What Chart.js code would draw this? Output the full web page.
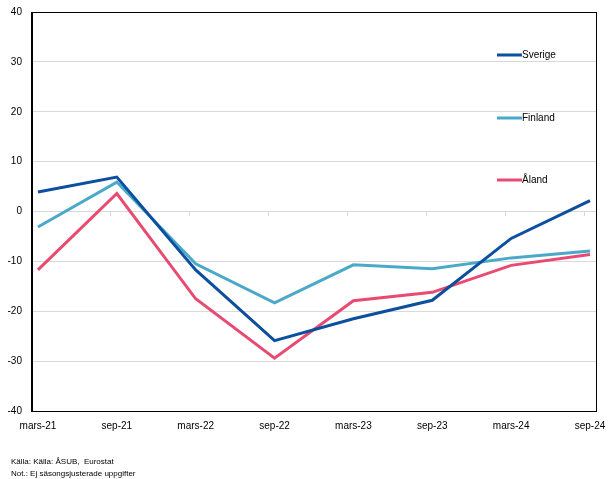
<!DOCTYPE html>
<html>
<head>
<meta charset="utf-8">
<script src="https://cdn.jsdelivr.net/npm/chart.js@4.4.1/dist/chart.umd.min.js"></script>
<style>
  html, body { margin: 0; padding: 0; background: #fff; }
  #wrap { position: relative; width: 610px; height: 479px; }
</style>
</head>
<body>
<div id="wrap"><canvas id="c" width="610" height="479"></canvas></div>
<script>
const categories = ['mars-21', 'sep-21', 'mars-22', 'sep-22', 'mars-23', 'sep-23', 'mars-24', 'sep-24'];
const sverige = [3.9, 6.9, -11.7, -25.9, -21.5, -17.8, -5.4, 2.2];
const finland = [-3.1, 5.9, -10.5, -18.3, -10.7, -11.5, -9.3, -7.9];
const aland = [-11.7, 3.6, -17.5, -29.4, -17.9, -16.2, -10.8, -8.6];
const seriesNames = ['Sverige', 'Finland', 'Åland'];
const yTicks = [40, 30, 20, 10, 0, -10, -20, -30, -40];
const footerLines = ['Källa: Källa: ÅSUB,  Eurostat', 'Not.: Ej säsongsjusterade uppgifter'];

const colors = ['#0b4f9e', '#4aa9c9', '#e94a72'];
const FONT = "'Liberation Sans', Arial, sans-serif";
const xPad = 0.076;

function pts(arr) { return arr.map((v, i) => ({ x: i, y: v })); }

const frameAndLegend = {
  id: 'frameAndLegend',
  afterDraw(chart) {
    const { ctx, chartArea: a } = chart;
    ctx.save();
    ctx.strokeStyle = '#000';
    ctx.lineWidth = 1;
    ctx.strokeRect(Math.round(a.left) + 0.5, Math.round(a.top) + 0.5,
                   Math.round(a.right - a.left), Math.round(a.bottom - a.top));
    const legendY = [55, 118, 180];
    ctx.font = '10px ' + FONT;
    ctx.textBaseline = 'middle';
    ctx.textAlign = 'left';
    chart.data.datasets.forEach((ds, i) => {
      ctx.strokeStyle = ds.borderColor;
      ctx.lineWidth = 3;
      ctx.beginPath();
      ctx.moveTo(497, legendY[i]);
      ctx.lineTo(522, legendY[i]);
      ctx.stroke();
      ctx.fillStyle = '#000';
      ctx.fillText(ds.label, 522, legendY[i]);
    });
    ctx.font = '8px ' + FONT;
    ctx.textBaseline = 'middle';
    footerLines.forEach((t, i) => ctx.fillText(t, 11, 462 + i * 12));
    ctx.restore();
  }
};

new Chart(document.getElementById('c'), {
  type: 'line',
  data: {
    datasets: [
      { label: seriesNames[0], data: pts(sverige), borderColor: colors[0], backgroundColor: colors[0] },
      { label: seriesNames[1], data: pts(finland), borderColor: colors[1], backgroundColor: colors[1] },
      { label: seriesNames[2], data: pts(aland), borderColor: colors[2], backgroundColor: colors[2] }
    ].map(d => Object.assign(d, { borderWidth: 3, pointRadius: 0, tension: 0, fill: false }))
  },
  options: {
    responsive: false,
    animation: false,
    devicePixelRatio: 1,
    layout: { padding: { left: 7.5, right: 14, top: 12, bottom: 47 } },
    plugins: { legend: { display: false }, title: { display: false }, tooltip: { enabled: false } },
    scales: {
      x: {
        type: 'linear',
        min: -xPad,
        max: categories.length - 1 + xPad,
        afterBuildTicks(axis) { axis.ticks = categories.map((_, i) => ({ value: i })); },
        grid: { drawOnChartArea: false, drawTicks: true, tickLength: 9, tickColor: 'rgba(0,0,0,0)' },
        border: { display: true, color: '#000', width: 1 },
        ticks: {
          autoSkip: false, maxRotation: 0, padding: 0,
          color: '#000', font: { family: FONT, size: 10 },
          callback: (v) => categories[Math.round(v)]
        }
      },
      x0: {
        type: 'linear',
        position: { y: 0 },
        min: -xPad,
        max: categories.length - 1 + xPad,
        afterBuildTicks(axis) { axis.ticks = categories.slice(1).map((_, i) => ({ value: -xPad + i + 1 })); },
        grid: { drawOnChartArea: false, drawTicks: true, tickLength: 4, color: '#d9d9d9' },
        border: { display: false },
        ticks: { display: false }
      },
      y: {
        min: -40, max: 40,
        afterBuildTicks(axis) { axis.ticks = yTicks.map(v => ({ value: v })); },
        grid: { color: '#d9d9d9', drawTicks: true, tickLength: 10, tickColor: 'rgba(0,0,0,0)' },
        border: { display: true, color: '#000', width: 1 },
        ticks: { padding: 0, color: '#000', font: { family: FONT, size: 10 } }
      }
    }
  },
  plugins: [frameAndLegend]
});
</script>
</body>
</html>
